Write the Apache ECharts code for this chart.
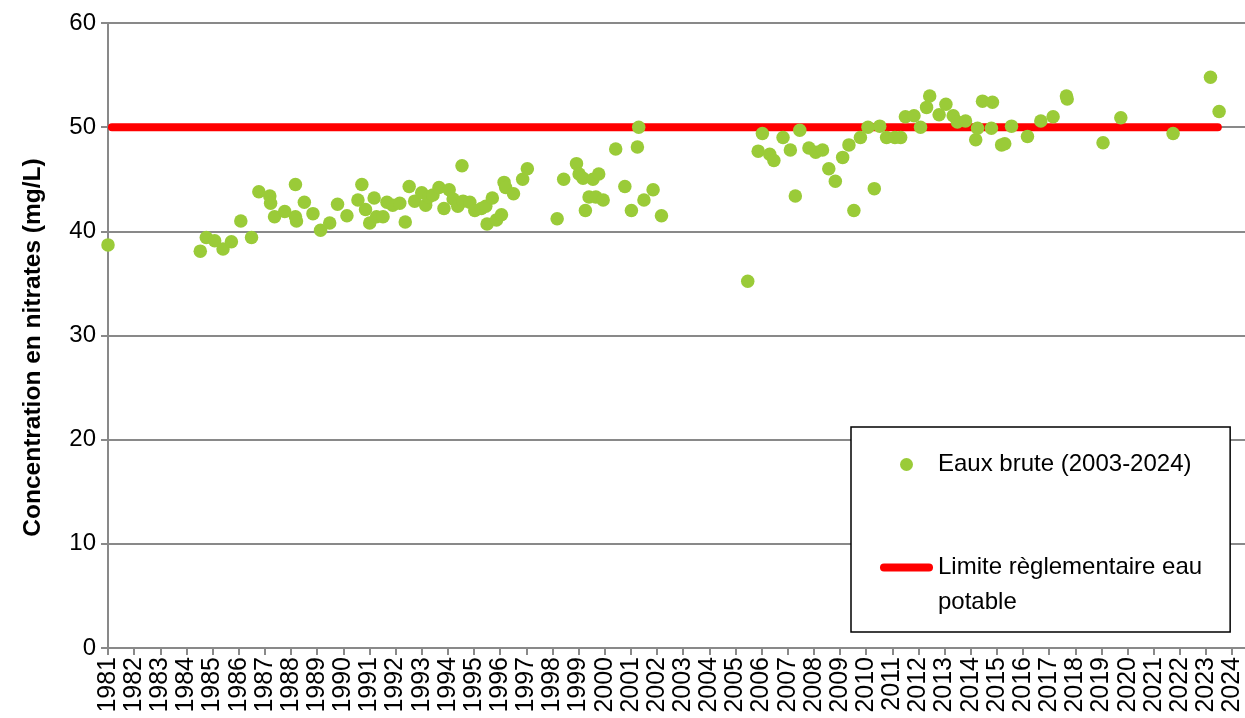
<!DOCTYPE html>
<html>
<head>
<meta charset="utf-8">
<script src="https://cdn.jsdelivr.net/npm/echarts@6/dist/echarts.min.js"></script>
<style>
html,body{margin:0;padding:0;background:#fff;}
#chart{width:1245px;height:718px;}
</style>
</head>
<body>
<div id="chart"></div>
<script>
// Sampling dates (decimal years) and nitrate concentrations (mg/L)
const sampleYears = [
  1981.00, 1984.53, 1984.76, 1985.08, 1985.40, 1985.72, 1986.08, 1986.49, 1986.77, 1987.19,
  1987.22, 1987.37, 1987.76, 1988.17, 1988.17, 1988.21, 1988.51, 1988.84, 1989.13, 1989.48,
  1989.78, 1990.14, 1990.56, 1990.71, 1990.85, 1991.01, 1991.18, 1991.27, 1991.52, 1991.67,
  1991.89, 1992.16, 1992.37, 1992.52, 1992.73, 1993.00, 1993.15, 1993.27, 1993.43, 1993.66,
  1993.85, 1994.05, 1994.20, 1994.38, 1994.54, 1994.58, 1994.84, 1995.03, 1995.28, 1995.45,
  1995.50, 1995.70, 1995.86, 1996.05, 1996.15, 1996.21, 1996.51, 1996.86, 1997.04, 1998.18,
  1998.43, 1998.92, 1999.02, 1999.17, 1999.26, 1999.40, 1999.55, 1999.66, 1999.77, 1999.94,
  2000.42, 2000.77, 2001.02, 2001.25, 2001.30, 2001.50, 2001.85, 2002.17, 2005.47, 2005.87,
  2006.03, 2006.31, 2006.47, 2006.82, 2007.10, 2007.29, 2007.46, 2007.81, 2008.07, 2008.33,
  2008.57, 2008.82, 2009.10, 2009.34, 2009.53, 2009.78, 2010.07, 2010.31, 2010.52, 2010.78,
  2011.10, 2011.32, 2011.50, 2011.83, 2012.08, 2012.31, 2012.43, 2012.79, 2013.05, 2013.33,
  2013.49, 2013.80, 2014.19, 2014.26, 2014.45, 2014.79, 2014.83, 2015.18, 2015.30, 2015.56,
  2016.17, 2016.68, 2017.15, 2017.66, 2017.69, 2019.06, 2019.74, 2021.74, 2023.17, 2023.50
];
const nitrateValues = [
  38.7, 38.1, 39.4, 39.1, 38.3, 39.0, 41.0, 39.4, 43.8, 43.4,
  42.7, 41.4, 41.9, 44.5, 41.4, 41.0, 42.8, 41.7, 40.1, 40.8,
  42.6, 41.5, 43.0, 44.5, 42.1, 40.8, 43.2, 41.4, 41.4, 42.8,
  42.5, 42.7, 40.9, 44.3, 42.9, 43.7, 42.5, 43.3, 43.5, 44.2,
  42.2, 44.0, 43.1, 42.4, 46.3, 42.9, 42.8, 42.0, 42.2, 42.4,
  40.7, 43.2, 41.1, 41.6, 44.7, 44.2, 43.6, 45.0, 46.0, 41.2,
  45.0, 46.5, 45.5, 45.1, 42.0, 43.3, 45.0, 43.3, 45.5, 43.0,
  47.9, 44.3, 42.0, 48.1, 50.0, 43.0, 44.0, 41.5, 35.2, 47.7,
  49.4, 47.4, 46.8, 49.0, 47.8, 43.4, 49.7, 48.0, 47.6, 47.8,
  46.0, 44.8, 47.1, 48.3, 42.0, 49.0, 50.0, 44.1, 50.1, 49.0,
  49.0, 49.0, 51.0, 51.1, 50.0, 51.9, 53.0, 51.2, 52.2, 51.1,
  50.5, 50.6, 48.8, 49.9, 52.5, 49.9, 52.4, 48.3, 48.4, 50.1,
  49.1, 50.6, 51.0, 53.0, 52.7, 48.5, 50.9, 49.4, 54.8, 51.5
];
// Regulatory limit for drinking water
const limitYears = [1981.15, 2023.45];
const limitValues = [50, 50];
// Axis tick labels
const yearLabels = [
  1981, 1982, 1983, 1984, 1985, 1986, 1987, 1988, 1989, 1990, 1991,
  1992, 1993, 1994, 1995, 1996, 1997, 1998, 1999, 2000, 2001, 2002,
  2003, 2004, 2005, 2006, 2007, 2008, 2009, 2010, 2011, 2012, 2013,
  2014, 2015, 2016, 2017, 2018, 2019, 2020, 2021, 2022, 2023, 2024
];
const valueTicks = [0, 10, 20, 30, 40, 50, 60];

const scatterName = 'Eaux brute (2003-2024)';
const limitName = 'Limite règlementaire eau potable';

const FONT = 'Liberation Sans, Arial, sans-serif';
const GRAY = '#898989';

const chart = echarts.init(document.getElementById('chart'), null, {renderer: 'canvas'});
chart.setOption({
  animation: false,
  backgroundColor: '#fff',
  textStyle: {fontFamily: FONT},
  grid: {left: 108, right: 0, top: 23, bottom: 70, containLabel: false},
  xAxis: {
    type: 'value',
    min: 1981,
    max: 2024.49,
    splitLine: {show: false},
    axisLine: {show: true, onZero: false, lineStyle: {color: GRAY, width: 2}},
    axisTick: {show: true, customValues: yearLabels, length: 7, lineStyle: {color: GRAY, width: 2}},
    axisLabel: {
      customValues: yearLabels,
      rotate: 90,
      margin: 9,
      color: '#000',
      fontSize: 25,
      fontFamily: FONT,
      formatter: v => String(v)
    }
  },
  yAxis: {
    type: 'value',
    min: 0,
    max: 60,
    interval: 10,
    name: 'Concentration en nitrates (mg/L)',
    nameLocation: 'middle',
    nameGap: 62,
    nameTextStyle: {fontSize: 24.5, fontWeight: 'bold', color: '#000', fontFamily: FONT, padding: [0, 24, 0, 0]},
    axisLine: {show: true, lineStyle: {color: GRAY, width: 2}},
    axisTick: {show: true, length: 7, lineStyle: {color: GRAY, width: 2}},
    splitLine: {show: true, lineStyle: {color: GRAY, width: 2}},
    axisLabel: {
      customValues: valueTicks,
      margin: 12,
      color: '#000',
      fontSize: 24,
      fontFamily: FONT
    }
  },
  legend: {
    left: 851,
    top: 427,
    orient: 'vertical',
    backgroundColor: '#fff',
    borderColor: '#000',
    borderWidth: 1.5,
    borderRadius: 0,
    padding: [20, 28, 12, 29],
    itemGap: 33,
    itemWidth: 53,
    itemHeight: 13,
    selectedMode: false,
    textStyle: {fontSize: 24, color: '#000', fontFamily: FONT, lineHeight: 35},
    formatter: function (name) {
      return name === limitName ? '\nLimite règlementaire eau\npotable' : name;
    },
    data: [
      {name: scatterName, icon: 'circle'},
      {
        name: limitName,
        icon: 'path://M4,0 L49,0 A4,4 0 0 1 49,8 L4,8 A4,4 0 0 1 4,0 Z',
        itemStyle: {color: '#ff0000', borderWidth: 0}
      }
    ]
  },
  series: [
    {
      name: limitName,
      type: 'line',
      data: limitYears.map((x, i) => [x, limitValues[i]]),
      symbol: 'none',
      color: '#ff0000',
      lineStyle: {color: '#ff0000', width: 8, cap: 'round'},
      z: 3,
      silent: true
    },
    {
      name: scatterName,
      type: 'scatter',
      data: sampleYears.map((x, i) => [x, nitrateValues[i]]),
      symbol: 'circle',
      symbolSize: 13.5,
      itemStyle: {color: '#9ACB38', opacity: 1},
      z: 4
    }
  ]
});
</script>
</body>
</html>
